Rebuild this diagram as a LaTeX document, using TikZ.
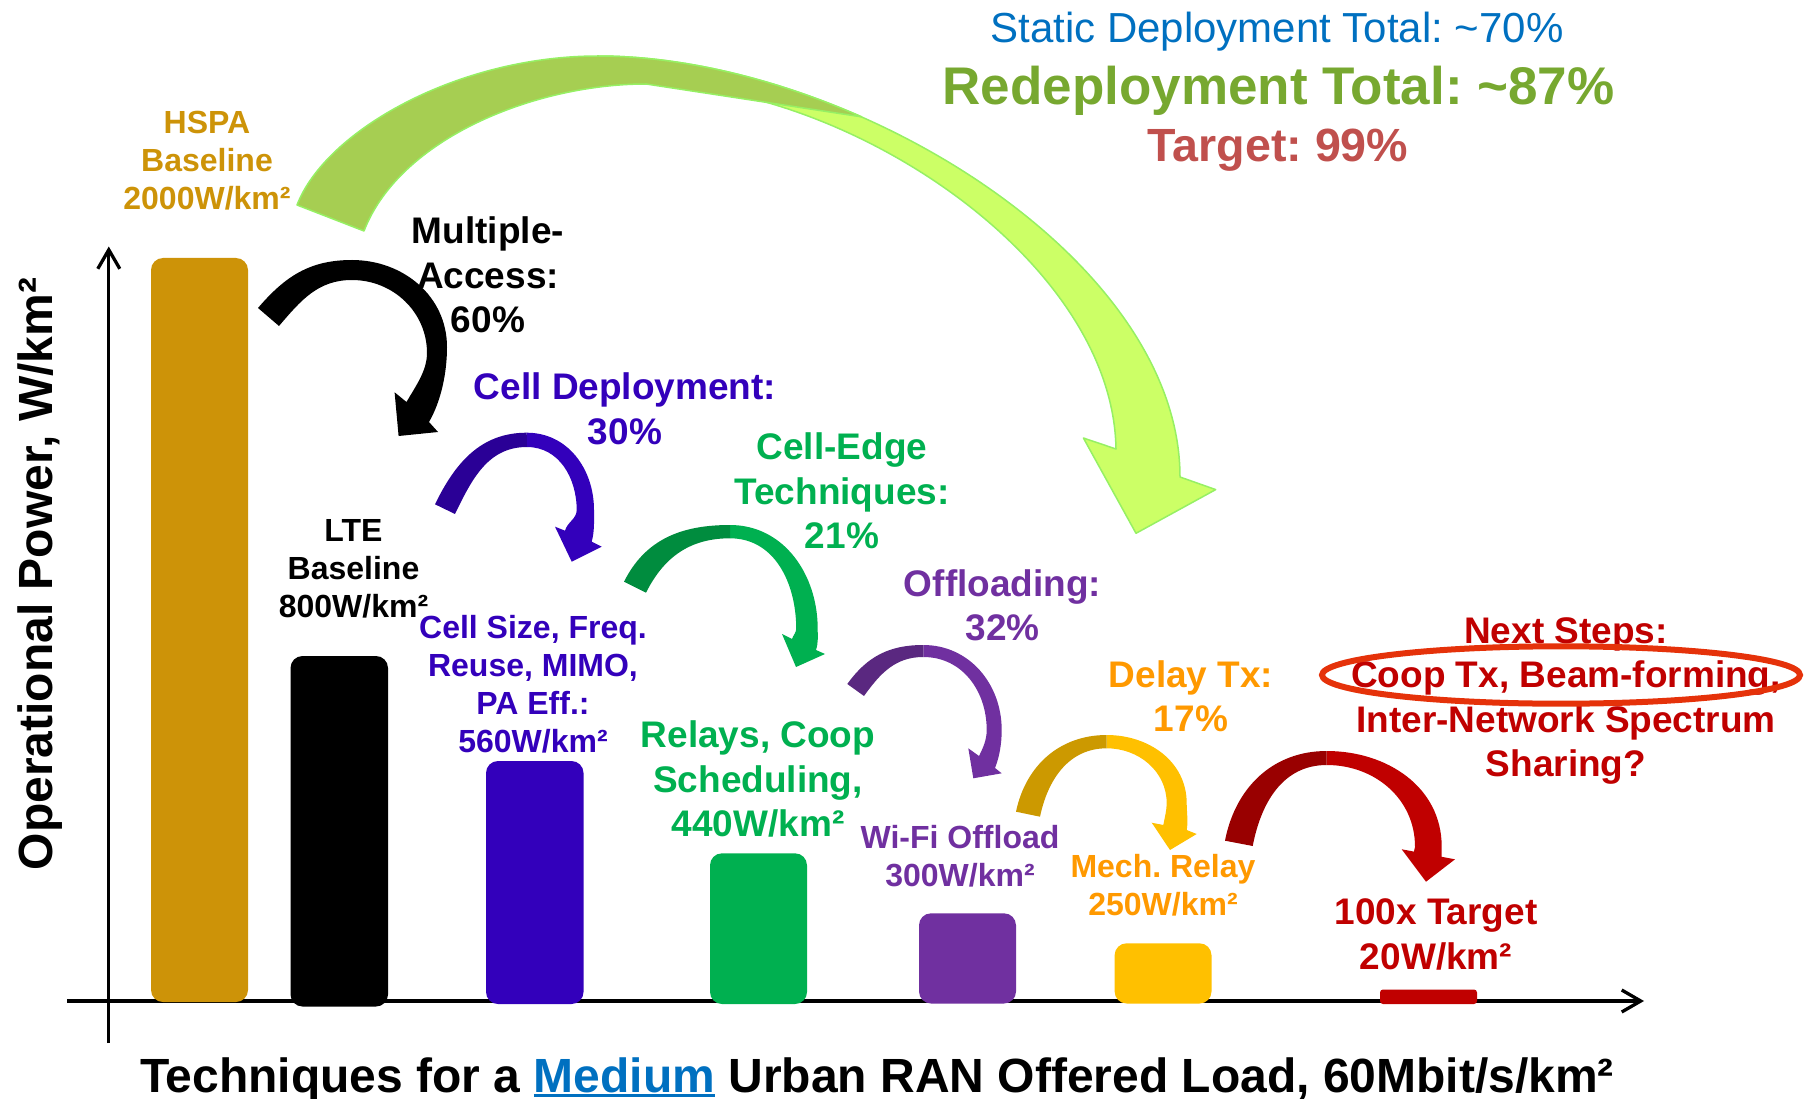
\documentclass[tikz,border=0pt]{standalone}
\usepackage{fontspec}
\setmainfont{Liberation Sans}
\usetikzlibrary{arrows.meta}
\frenchspacing
\definecolor{cgold}{RGB}{205,147,8}
\definecolor{cblue}{RGB}{51,0,187}
\definecolor{cbluedark}{RGB}{42,0,150}
\definecolor{cgreen}{RGB}{0,176,80}
\definecolor{cgreendark}{RGB}{0,140,62}
\definecolor{cpurple}{RGB}{112,48,160}
\definecolor{cpurpledark}{RGB}{90,40,128}
\definecolor{cyellow}{RGB}{255,192,0}
\definecolor{cyellowdark}{RGB}{204,153,0}
\definecolor{corange}{RGB}{255,153,0}
\definecolor{cred}{RGB}{192,0,0}
\definecolor{creddark}{RGB}{153,0,0}
\definecolor{cellip}{RGB}{229,50,10}
\definecolor{cstatic}{RGB}{0,112,192}
\definecolor{credeploy}{RGB}{119,168,48}
\definecolor{ctarget}{RGB}{192,80,77}
\definecolor{bgback}{RGB}{166,206,82}
\definecolor{bgfront}{RGB}{204,255,102}
\definecolor{bgline}{RGB}{150,240,100}
\newcommand\ulmed[1]{\setbox0\hbox{#1}\rlap{\rule[-4.5pt]{\wd0}{2.8pt}}\box0}
\tikzset{
  lblS/.style={inner sep=0pt, align=center, anchor=north, font=\frenchspacing\bfseries\fontsize{32}{38}\selectfont},
  lblL/.style={inner sep=0pt, align=center, anchor=north, font=\frenchspacing\bfseries\fontsize{37}{44.5}\selectfont},
  axisline/.style={line width=3.3pt, -{Straight Barb[length=19pt,width=22pt]}},
  bar/.style={rounded corners=12pt},
  bigarrow/.style={draw=bgline, line width=1.5pt, line join=round}
}
\begin{document}
\frenchspacing
\begin{tikzpicture}[x=1pt,y=-1pt]
\useasboundingbox (0,0) rectangle (1815,1099);

% axes
\draw[axisline] (108.8,1043) -- (108.8,246.5);
\draw[axisline] (67,1001) -- (1644,1001);

% bars
\fill[bar, cgold] (151,258) rectangle (248,1002);
\fill[bar, black] (290.5,656) rectangle (388,1006.5);
\fill[bar, cblue] (486,761) rectangle (583.5,1004);
\fill[bar, cgreen] (710,853.3) rectangle (807,1004);
\fill[bar, cpurple] (919,913.3) rectangle (1016,1003.5);
\fill[bar, cyellow] (1114.6,943.3) rectangle (1211.5,1003.5);
\fill[cred, rounded corners=3pt] (1380,989.5) rectangle (1477,1004);

% big green arrow
\path[bigarrow, fill=bgfront] (598,56) .. controls (848,56) and (1180,257) .. (1180,477)
  -- (1215.7,489.6) -- (1136,533.3) -- (1083.4,438) -- (1116,449)
  .. controls (1113,259) and (846,84) .. (646,84) -- cycle;
\path[bigarrow, fill=bgback] (297,205) .. controls (325.8,130.4) and (458,56) .. (598,56)
  .. controls (681.75,56) and (774.7,78.55) .. (861.8,116.9) -- (646,84)
  .. controls (536,84) and (400,137.7) .. (364,231) -- cycle;

% black arrow
\fill[black] (352,260) .. controls (403,260) and (447,296) .. (447,347)
  .. controls (447,372) and (441.5,400.3) .. (429,422) -- (438,432) -- (398.6,436) -- (394.6,392.3) -- (406.5,402)
  .. controls (415.5,386.3) and (427,371) .. (427,353) .. controls (427,312) and (393,280) .. (352,280) -- cycle;
\fill[black] (258,308) .. controls (285.3,276.1) and (310,260) .. (352,260) -- (352,280)
  .. controls (318,280) and (301,300.2) .. (279,326) -- cycle;

% blue arrow
\fill[cblue] (526.7,432.7) .. controls (567.7,432.7) and (594,469) .. (594,510)
  .. controls (594,521) and (594.6,531) .. (591.7,541.7) -- (601.7,546.7) -- (571.7,561.7) -- (555,526.7) -- (565,530.7)
  .. controls (567.3,522) and (576.7,519) .. (576.7,510) .. controls (576.7,478) and (559,447) .. (527,447) -- cycle;
\fill[cbluedark] (435,504.3) .. controls (455.1,462.9) and (480.7,432.7) .. (526.7,432.7) -- (527,447)
  .. controls (488,447) and (472,478.9) .. (455,514) -- cycle;

% green arrow
\fill[cgreen] (730,525) .. controls (784,525) and (817.7,574.7) .. (817.7,628.7)
  .. controls (817.7,636.7) and (818.4,642.4) .. (816,650) -- (825,654) -- (796,667) -- (782,634) -- (792,639)
  .. controls (793.2,635.2) and (796.2,632.7) .. (796.2,628.7) .. controls (796.2,583.7) and (775,538.3) .. (730,538.3) -- cycle;
\fill[cgreendark] (624,581.7) .. controls (645.5,538.8) and (682,525) .. (730,525) -- (730,538.3)
  .. controls (690,538.3) and (663.9,557) .. (646,592.7) -- cycle;

% purple arrow
\fill[cpurple] (923.3,645) .. controls (969.3,645) and (1001.7,684) .. (1001.7,730)
  .. controls (1001.7,745) and (999,758) .. (995,768) -- (1001.7,773.3) -- (973.3,778.3) -- (968.3,748.3) -- (979,756)
  .. controls (983,748) and (986.7,740) .. (986.7,730) .. controls (986.7,691) and (962.3,657) .. (923.3,657) -- cycle;
\fill[cpurpledark] (847.3,684) .. controls (867.1,656.4) and (889.3,645) .. (923.3,645) -- (923.3,657)
  .. controls (895.3,657) and (880.3,673.3) .. (864,696) -- cycle;

% gold arrow
\fill[cyellow] (1106.7,735) .. controls (1148.7,735) and (1186.7,761.3) .. (1186.7,803.3)
  .. controls (1186.7,812.3) and (1188.3,821.2) .. (1186.7,830) -- (1196.7,834) -- (1170,850) -- (1151.7,822.7) -- (1163.3,825)
  .. controls (1164.6,818.1) and (1166.7,810.3) .. (1166.7,803.3) .. controls (1166.7,771.3) and (1138.7,748.3) .. (1106.7,748.3) -- cycle;
\fill[cyellowdark] (1016,811.7) .. controls (1025.6,765.6) and (1059.7,735) .. (1106.7,735) -- (1106.7,748.3)
  .. controls (1068.7,748.3) and (1047.8,779.5) .. (1040,816.7) -- cycle;

% red arrow
\fill[cred] (1326.7,751) .. controls (1386.7,751) and (1441.7,786.7) .. (1441.7,846.7)
  -- (1441.7,856.8) -- (1455,859.3) -- (1426,881.7) -- (1401.7,849.3) -- (1414,851.6) -- (1415,846.7)
  .. controls (1415,798.7) and (1374.7,765) .. (1326.7,765) -- cycle;
\fill[creddark] (1225,840.7) .. controls (1235.2,787.7) and (1272.7,751) .. (1326.7,751) -- (1326.7,765)
  .. controls (1282.7,765) and (1261,802.8) .. (1252.7,846) -- cycle;

% labels
\node[lblS, text=cgold] (hspa) at (207,110.5) {HSPA\\Baseline\\2000W/km²};
\node[lblL] (ma) at (488,216.6) {Multiple-\\Access:\\60\%};
\node[lblS] (lte) at (353.5,519) {LTE\\Baseline\\800W/km²};
\node[lblL, text=cblue] (cd) at (625,372.6) {Cell Deployment:\\30\%};
\node[lblS, text=cblue] (cs) at (533,615) {Cell Size, Freq.\\Reuse, MIMO,\\PA Eff.:\\560W/km²};
\node[lblL, text=cgreen] (ce) at (842,432.7) {Cell-Edge\\Techniques:\\21\%};
\node[lblL, text=cgreen] (rc) at (758,720.5) {Relays, Coop\\Scheduling,\\440W/km²};
\node[lblL, text=cpurple] (of) at (1002.6,569) {Offloading:\\32\%};
\node[lblS, text=cpurple] (wf) at (960,825) {Wi-Fi Offload\\300W/km²};
\node[lblL, text=corange] (dt) at (1191,660) {Delay Tx:\\17\%};
\node[lblS, text=corange] (mr) at (1163,854) {Mech. Relay\\250W/km²};
\node[lblL, text=cred] (tg) at (1436,898.5) {100x Target\\20W/km²};
\node[lblL, text=cred] (ns) at (1566,617) {Next Steps:\\Coop Tx, Beam-forming,\\Inter-Network Spectrum\\Sharing?};

\node[inner sep=0pt, anchor=base, text=cstatic, font=\frenchspacing\fontsize{42}{50}\selectfont] (st) at (1277,43) {Static Deployment Total: \textasciitilde70\%};
\node[inner sep=0pt, anchor=base, text=credeploy, font=\frenchspacing\bfseries\fontsize{53}{60}\selectfont] (rd) at (1278.5,104.7) {Redeployment Total: \textasciitilde87\%};
\node[inner sep=0pt, anchor=base, text=ctarget, font=\frenchspacing\bfseries\fontsize{46.6}{54}\selectfont] (tt) at (1278,161.4) {Target: 99\%};

\node[inner sep=0pt, anchor=base, font=\frenchspacing\bfseries\fontsize{48}{56}\selectfont] (xlab) at (877,1092) {Techniques for a {\color{cstatic}\ulmed{Medium}} Urban RAN Offered Load, 60Mbit/s/km²};
\node[inner sep=0pt, anchor=base, rotate=90, font=\frenchspacing\bfseries\fontsize{48}{56}\selectfont] (ylab) at (52,574) {Operational Power, W/km²};

% ellipse
\draw[cellip, line width=6pt] (1561,675) ellipse [x radius=239pt, y radius=28.7pt];
\end{tikzpicture}
\end{document}
